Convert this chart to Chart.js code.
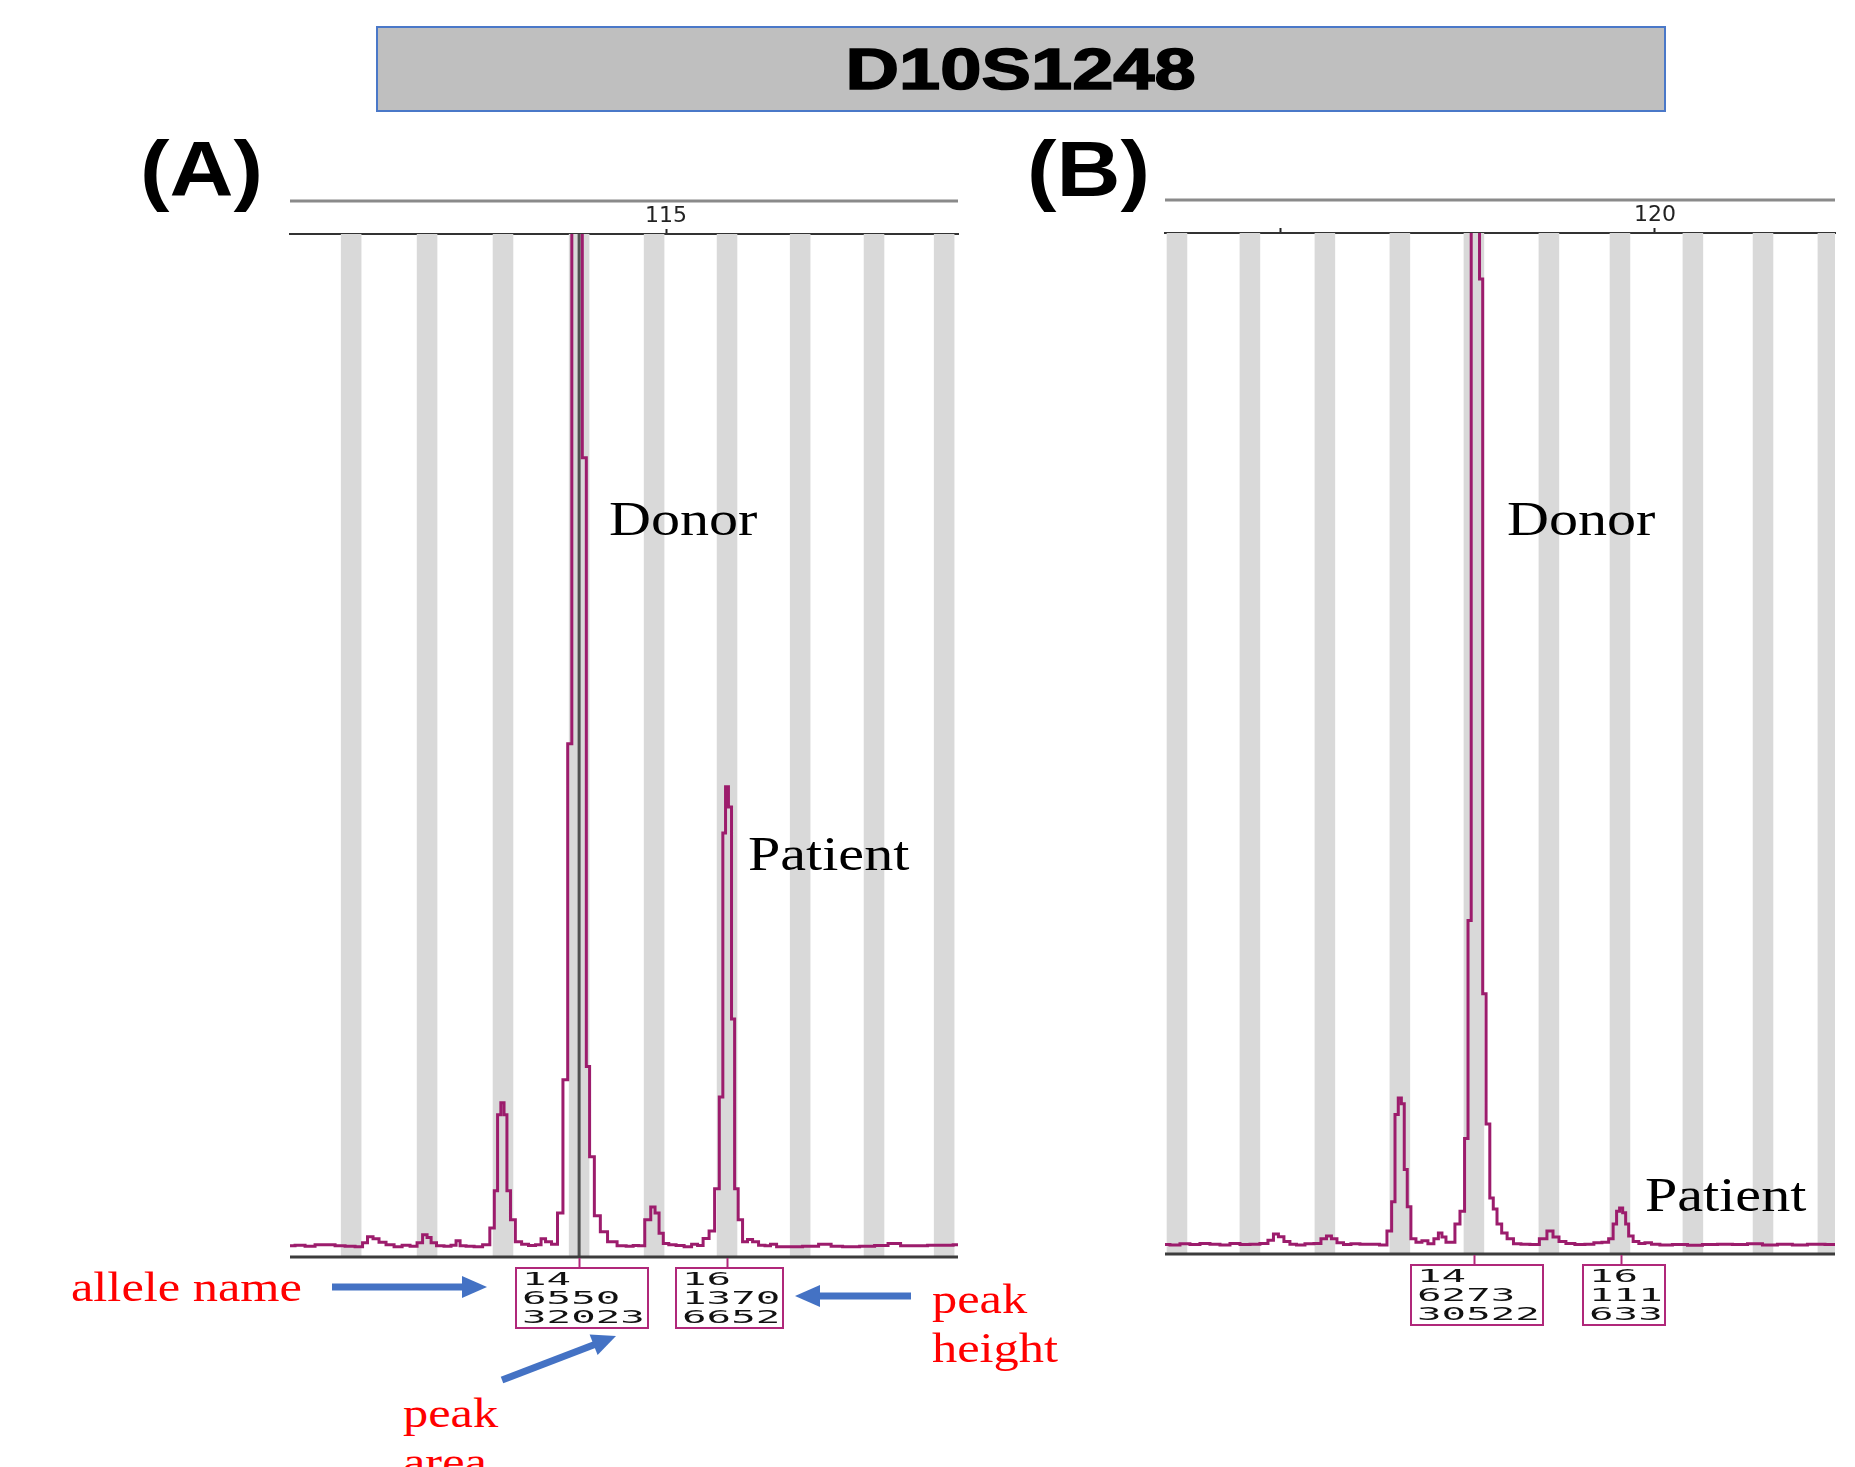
<!DOCTYPE html>
<html>
<head>
<meta charset="utf-8">
<script src="https://cdn.jsdelivr.net/npm/chart.js@4.4.0/dist/chart.umd.min.js"></script>
<style>
html, body { margin: 0; padding: 0; background: #fff; }
body { width: 1855px; height: 1467px; position: relative; overflow: hidden; }
.abs { position: absolute; white-space: nowrap; }
#title { position: absolute; left: 376px; top: 26px; width: 1286px; height: 82px; background: #bfbfbf;
  border: 2px solid #4a78c8; display: flex; align-items: center; justify-content: center; }
#title span { font: bold 57px "Liberation Sans", Arial, sans-serif; display: inline-block; transform: scaleX(1.3);
  color: #000; -webkit-text-stroke: 1.5px #000; }
.panel { font: bold 77px "Liberation Sans", Arial, sans-serif; line-height: 1; transform: scaleX(1.15); transform-origin: left top; color: #000; }
.lbl { font: 48px "Liberation Serif", "Times New Roman", serif; line-height: 1; transform: scaleX(1.21); transform-origin: left top; color: #000; }
.red { font: 42px "Liberation Serif", "Times New Roman", serif; line-height: 1; transform: scaleX(1.2); transform-origin: left top; color: #f00; }
.box { position: absolute; border: 2px solid #b0287a; background: #fff; box-sizing: border-box; padding: 1px 0 0 5px; height: 62px; }
.box span { display: block; font: 17px "DejaVu Sans Mono", "Liberation Mono", monospace; line-height: 19px; transform: scaleX(2.4); transform-origin: left top; color: #111; }
canvas { position: absolute; }
</style>
</head>
<body>
<div id="title"><span>D10S1248</span></div>
<div class="abs panel" style="left:140px;top:131px">(A)</div>
<div class="abs panel" style="left:1027px;top:131px">(B)</div>

<canvas id="chartA" width="720" height="1200" style="left:260px;top:150px"></canvas>
<canvas id="chartB" width="715" height="1200" style="left:1140px;top:150px"></canvas>

<div class="abs lbl" style="left:609px;top:495px">Donor</div>
<div class="abs lbl" style="left:748px;top:830px">Patient</div>
<div class="abs lbl" style="left:1507px;top:495px">Donor</div>
<div class="abs lbl" style="left:1645px;top:1171px">Patient</div>

<div class="abs red" style="left:71px;top:1266px">allele name</div>
<div class="abs red" style="left:932px;top:1278px">peak</div>
<div class="abs red" style="left:932px;top:1327px">height</div>
<div class="abs red" style="left:403px;top:1392px">peak</div>
<div class="abs red" style="left:403px;top:1441px">area</div>

<svg class="abs" style="left:0;top:0" width="1855" height="1467">
  <g fill="#4472c4" stroke="#4472c4">
    <line x1="332" y1="1287" x2="465" y2="1287" stroke-width="7"/>
    <polygon points="462,1276 487,1287 462,1298" stroke="none"/>
    <line x1="911" y1="1296" x2="817" y2="1296" stroke-width="7"/>
    <polygon points="820,1285 795,1296 820,1307" stroke="none"/>
    <line x1="502" y1="1380" x2="596" y2="1344" stroke-width="7"/>
    <polygon points="616,1336 597.6,1355 589.6,1334.4" stroke="none"/>
  </g>
</svg>

<script>
// Панель A: сигнал (п.н. / RFU)
const xA = [94.89, 95.43, 95.96, 96.50, 97.03, 97.57, 98.10, 98.64, 98.90, 99.17, 99.49, 99.81, 100.24, 100.67,
  101.10, 101.52, 101.85, 102.11, 102.33, 102.54, 102.91, 103.34, 103.66, 103.88, 104.09, 104.52, 104.95, 105.43,
  105.72, 105.91, 106.07, 106.26, 106.41, 106.57, 106.79, 107.09, 107.46, 107.83, 108.21, 108.42, 108.69, 109.06,
  109.33, 109.64, 109.84, 110.08, 110.40, 110.64, 110.83, 110.99, 111.34, 111.63, 112.11, 112.65, 113.08, 113.40,
  113.66, 114.06, 114.30, 114.52, 114.73, 114.97, 115.32, 115.75, 116.18, 116.55, 116.82, 117.14, 117.46, 117.73,
  117.96, 118.11, 118.25, 118.42, 118.58, 118.75, 118.96, 119.22, 119.49, 119.76, 120.13, 120.45, 120.72, 121.10,
  121.90, 122.70, 123.61, 124.04, 124.84, 125.86, 126.44, 127.30, 127.78, 128.58, 129.39, 130.08, 130.62];
const yA = [3, 5, 2, 6, 6, 3, 2, 0, 12, 30, 24, 14, 6, 0,
  5, 2, 12, 36, 28, 12, 3, 2, 5, 18, 3, 2, 0, 6,
  56, 166, 391, 427, 391, 166, 80, 15, 8, 4, 6, 24, 15, 8,
  100, 495, 1490, 6550, 6550, 2337, 534, 267, 92, 45, 15, 3, 2, 4,
  3, 80, 118, 100, 40, 10, 6, 4, 0, 8, 4, 25, 47, 172,
  444, 1226, 1363, 1303, 675, 172, 80, 15, 22, 15, 5, 3, 8, 0,
  0, 2, 8, 2, 0, 2, 4, 10, 3, 3, 5, 5, 6];

// Панель B
const xB = [93.80, 94.33, 94.87, 95.40, 95.94, 96.47, 97.01, 97.54, 98.08, 98.61, 99.14, 99.47, 99.73, 100.00,
  100.32, 100.64, 101.02, 101.55, 101.98, 102.30, 102.57, 102.83, 103.16, 103.53, 103.96, 104.49, 105.03, 105.51,
  105.83, 106.01, 106.19, 106.36, 106.52, 106.67, 106.84, 107.06, 107.38, 107.70, 108.02, 108.34, 108.50, 108.72,
  108.93, 109.17, 109.44, 109.71, 109.93, 110.08, 110.27, 110.53, 110.71, 110.87, 111.07, 111.27, 111.44, 111.67,
  111.94, 112.25, 112.62, 113.05, 113.58, 114.06, 114.39, 114.71, 115.03, 115.45, 115.99, 116.52, 116.95, 117.38,
  117.67, 117.86, 118.04, 118.18, 118.37, 118.50, 118.69, 118.98, 119.30, 119.63, 120.00, 120.53, 121.34, 122.14,
  122.94, 123.74, 124.55, 125.35, 126.15, 126.95, 127.75, 128.56, 129.63];
const yB = [3, 2, 5, 3, 6, 4, 2, 6, 3, 4, 6, 16, 34, 26,
  12, 4, 2, 5, 6, 20, 28, 20, 8, 3, 5, 4, 4, 2,
  43, 130, 388, 437, 420, 225, 115, 20, 10, 14, 5, 20, 37, 25,
  10, 10, 64, 102, 317, 963, 6273, 6273, 2864, 746, 360, 141, 108, 64,
  37, 20, 5, 4, 3, 20, 43, 25, 12, 6, 3, 4, 8, 10,
  20, 64, 102, 111, 97, 64, 28, 12, 6, 8, 4, 2, 3, 1,
  3, 4, 3, 5, 2, 4, 2, 4, 3];

// бины (серые полосы)
const binsA = [98.16, 102.22, 106.28, 110.35, 114.36, 118.26, 122.17, 126.12, 129.87];
const binsB = [94.44, 98.34, 102.35, 106.36, 110.32, 114.33, 118.13, 122.03, 125.78, 129.25];

// деления шкалы
const ticksA = [115];
const tickLabelsA = ['115'];
const ticksB = [100, 120];
const tickLabelsB = ['', '120'];

// аллели: имя, высота пика, площадь
const posA = [110.35, 118.25];
const allelesA = ['14', '16'];
const heightsA = [6550, 1370];
const areasA = [32023, 6652];

const posB = [110.32, 118.18];
const allelesB = ['14', '16'];
const heightsB = [6273, 111];
const areasB = [30522, 633];

const traceColor = '#9c1c6c';

function makePlugin(bins, cursor, peaks) {
  return {
    id: 'egram',
    beforeDatasetsDraw(chart) {
      const ctx = chart.ctx, a = chart.chartArea, x = chart.scales.x;
      ctx.save();
      ctx.beginPath();
      ctx.rect(a.left, a.top, a.right - a.left, a.bottom - a.top);
      ctx.clip();
      ctx.fillStyle = '#d9d9d9';
      bins.forEach(b => {
        const l = x.getPixelForValue(b - 0.55), r = x.getPixelForValue(b + 0.55);
        ctx.fillRect(l, a.top, r - l, a.bottom - a.top);
      });
      if (cursor != null) {
        const cx = x.getPixelForValue(cursor);
        ctx.strokeStyle = '#505050';
        ctx.lineWidth = 3;
        ctx.beginPath();
        ctx.moveTo(cx, a.top);
        ctx.lineTo(cx, a.bottom);
        ctx.stroke();
      }
      ctx.restore();
    },
    afterDraw(chart) {
      const ctx = chart.ctx, a = chart.chartArea, x = chart.scales.x;
      ctx.save();
      // верхняя рамка
      ctx.strokeStyle = '#8a8a8a';
      ctx.lineWidth = 3;
      ctx.beginPath();
      ctx.moveTo(a.left, a.top - 33);
      ctx.lineTo(a.right, a.top - 33);
      ctx.stroke();
      // нижняя ось
      ctx.strokeStyle = '#3c3c3c';
      ctx.beginPath();
      ctx.moveTo(a.left, a.bottom);
      ctx.lineTo(a.right, a.bottom);
      ctx.stroke();
      // выноски к подписям
      ctx.strokeStyle = '#b0287a';
      ctx.lineWidth = 2;
      peaks.forEach(p => {
        const px = Math.round(x.getPixelForValue(p)) + 0.5;
        ctx.beginPath();
        ctx.moveTo(px, a.bottom + 1);
        ctx.lineTo(px, a.bottom + 10);
        ctx.stroke();
      });
      ctx.restore();
    }
  };
}

function makeChart(id, xs, ys, xmin, xmax, ymin, ticks, tickLabels, bins, cursor, peaks, pad) {
  const pts = xs.map((v, i) => ({ x: v, y: ys[i] }));
  return new Chart(document.getElementById(id), {
    type: 'line',
    data: {
      datasets: [{
        data: pts,
        borderColor: traceColor,
        borderWidth: 3,
        pointRadius: 0,
        stepped: 'middle',
        fill: false
      }]
    },
    options: {
      responsive: false,
      animation: false,
      devicePixelRatio: 1,
      layout: { padding: pad },
      plugins: { legend: { display: false }, tooltip: { enabled: false } },
      scales: {
        x: {
          type: 'linear',
          position: 'top',
          min: xmin,
          max: xmax,
          afterBuildTicks: s => { s.ticks = ticks.map(v => ({ value: v })); },
          afterFit: s => { s.height = 30; },
          ticks: {
            autoSkip: false,
            maxRotation: 0,
            padding: 0,
            color: '#222',
            font: { family: 'DejaVu Sans', size: 22 },
            callback: v => tickLabels[ticks.indexOf(v)] || ''
          },
          grid: { drawOnChartArea: false, drawTicks: true, tickLength: 5, tickWidth: 2, tickColor: '#222' },
          border: { display: true, color: '#333', width: 2 }
        },
        y: { display: false, min: ymin, max: 3000 }
      }
    },
    plugins: [makePlugin(bins, cursor, peaks)]
  });
}

function placeBoxes(chart, canvas, pos, alleles, heights, areas) {
  const x = chart.scales.x, bottom = chart.chartArea.bottom;
  const left0 = parseFloat(canvas.style.left), top0 = parseFloat(canvas.style.top);
  pos.forEach((p, i) => {
    const lines = [alleles[i], String(heights[i]), String(areas[i])];
    const chars = Math.max(...lines.map(s => s.length));
    const w = chars * 24.5 + 11;
    const cx = left0 + x.getPixelForValue(p) + 3;
    const div = document.createElement('div');
    div.className = 'box';
    div.style.left = (cx - w / 2) + 'px';
    div.style.top = (top0 + bottom + 10) + 'px';
    div.style.width = w + 'px';
    div.innerHTML = lines.map(s => '<span>' + s + '</span>').join('');
    document.body.appendChild(div);
  });
}

const chartA = makeChart('chartA', xA, yA, 94.89, 130.61, -30, ticksA, tickLabelsA, binsA, 110.35, posA,
  { left: 30, right: 22, top: 54, bottom: 93 });
const chartB = makeChart('chartB', xB, yB, 93.80, 129.63, -25, ticksB, tickLabelsB, binsB, null, posB,
  { left: 25, right: 20, top: 53, bottom: 96 });

placeBoxes(chartA, document.getElementById('chartA'), posA, allelesA, heightsA, areasA);
placeBoxes(chartB, document.getElementById('chartB'), posB, allelesB, heightsB, areasB);
</script>
</body>
</html>
